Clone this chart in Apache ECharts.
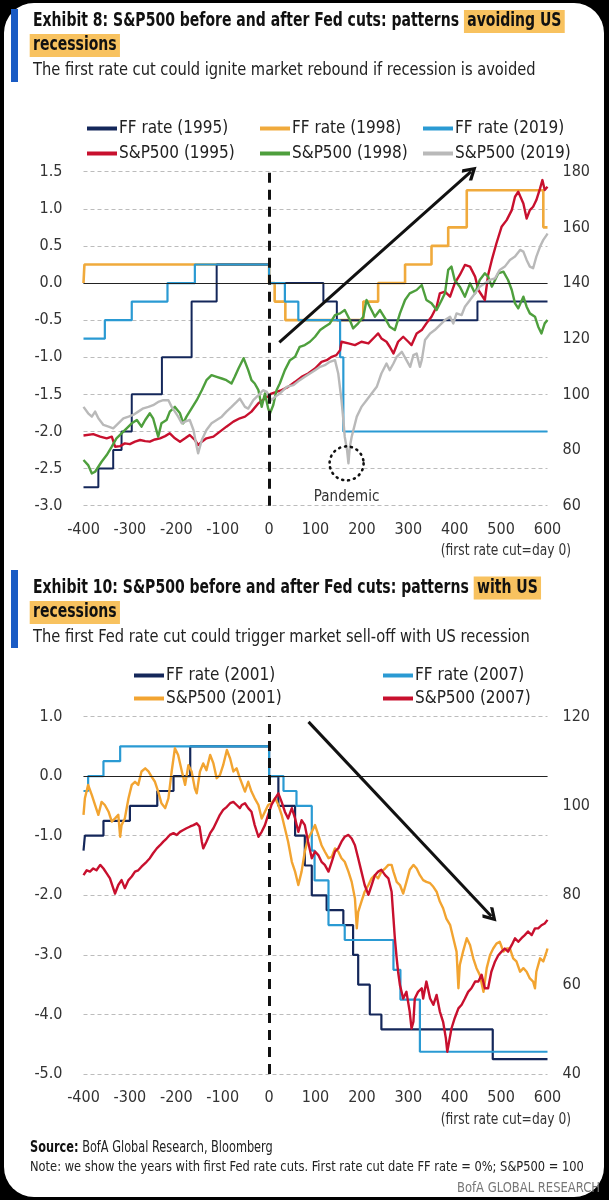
<!DOCTYPE html>
<html><head><meta charset="utf-8">
<script src="https://cdn.jsdelivr.net/npm/echarts@6/dist/echarts.min.js"></script>
<style>
html,body{margin:0;padding:0;background:#000;}
#wrap{position:relative;width:609px;height:1200px;background:#000;overflow:hidden;}
#card{position:absolute;left:4px;top:3px;right:5px;bottom:3px;background:#fff;border-radius:30px;}
#c{position:absolute;left:0;top:0;width:609px;height:1200px;}
</style></head>
<body><div id="wrap"><div id="card"></div><div id="c"></div></div>
<script>
// ---------------- DATA ----------------
const xTicks = [-400, 600, 100];
// Panel 1: FF rate change points (day, pp vs cut date)
const ff1995 = [[-400,-2.75],[-368,-2.5],[-336,-2.25],[-318,-2.0],[-296,-1.5],[-231,-1.0],[-167,-0.25],[-113,0.25],[0,0],[117,-0.25],[146,-0.5],[449,-0.25],[600,-0.25]];
const ff1998 = [[-400,0],[-398,0.25],[0,0],[12,-0.25],[35,-0.5],[203,-0.25],[235,0],[293,0.25],[350,0.5],[386,0.75],[426,1.25],[591,0.75],[600,0.75]];
const ff2019 = [[-400,-0.75],[-354,-0.5],[-296,-0.25],[-219,0],[-160,0.25],[0,0],[34,-0.25],[63,-0.5],[153,-1.0],[160,-2.0],[600,-2.0]];
// Panel 1: S&P500 (cut date = 100)
const sp1995 = [[-400,85.2],[-379,85.7],[-364,84.8],[-350,84.2],[-339,84.8],[-332,81.2],[-321,81.4],[-311,82.4],[-300,82.1],[-289,83.0],[-278,83.6],[-267,83.2],[-257,83.0],[-246,83.8],[-235,84.2],[-224,85.0],[-214,86.0],[-203,84.2],[-192,83.0],[-181,84.2],[-171,85.4],[-160,83.6],[-153,81.8],[-145,83.0],[-135,84.2],[-120,84.8],[-106,86.6],[-92,88.4],[-77,90.2],[-63,91.4],[-52,92.0],[-38,93.8],[-23,96.8],[-9,98.5],[5,100.3],[16,100.9],[27,101.5],[41,102.7],[56,104.5],[70,106.3],[84,107.5],[99,109.3],[113,111.7],[124,112.3],[135,113.5],[145,114.1],[153,115.9],[156,118.9],[171,118.3],[185,117.7],[199,118.9],[214,118.3],[228,120.7],[235,121.9],[242,120.1],[253,118.9],[260,117.1],[268,114.7],[278,118.9],[289,120.7],[300,118.9],[307,117.7],[318,121.9],[329,123.1],[339,125.5],[350,127.9],[361,131.5],[368,136.3],[379,136.9],[390,135.1],[400,139.9],[411,142.9],[422,146.5],[433,145.9],[444,142.3],[451,137.5],[458,135.7],[465,133.9],[472,142.9],[480,148.3],[490,154.3],[501,160.2],[512,162.6],[523,166.2],[530,171.0],[537,172.8],[548,168.6],[555,163.2],[562,166.2],[569,167.4],[576,169.8],[584,174.0],[589,177.0],[594,173.4],[600,174.6]];
const sp1998 = [[-400,76.4],[-390,74.6],[-382,71.6],[-375,72.2],[-368,74.0],[-361,75.8],[-350,78.2],[-339,81.2],[-329,84.2],[-318,86.0],[-307,87.8],[-296,89.6],[-285,90.8],[-275,88.4],[-267,90.8],[-257,93.2],[-250,91.4],[-239,84.8],[-232,89.6],[-221,90.8],[-214,93.8],[-203,95.5],[-192,93.2],[-185,89.6],[-178,92.0],[-167,95.0],[-156,97.9],[-145,101.5],[-135,105.1],[-124,106.9],[-113,106.3],[-102,105.7],[-92,105.1],[-81,103.9],[-74,106.3],[-66,109.3],[-55,113.0],[-52,112.9],[-45,108.7],[-38,105.1],[-31,103.9],[-23,101.5],[-16,95.5],[-9,100.3],[-2,94.9],[2,93.2],[9,96.2],[16,101.5],[23,103.9],[34,108.7],[45,112.3],[56,113.5],[66,117.1],[77,117.7],[88,118.9],[99,120.7],[110,123.1],[120,124.3],[131,125.5],[142,128.5],[153,129.1],[163,130.3],[174,126.7],[181,123.7],[192,125.5],[203,127.9],[210,133.9],[217,131.5],[228,127.9],[239,130.3],[250,127.3],[260,124.3],[271,123.1],[282,129.1],[293,133.9],[303,136.3],[318,137.5],[329,139.3],[339,133.9],[350,132.7],[361,130.3],[372,133.9],[379,136.3],[386,144.7],[393,145.9],[400,141.1],[411,138.7],[422,135.1],[433,139.9],[444,136.3],[454,141.1],[465,143.5],[472,142.3],[480,138.7],[487,141.1],[494,143.5],[505,144.1],[515,141.1],[523,137.5],[530,132.7],[537,130.9],[548,135.1],[555,131.5],[562,129.1],[573,127.9],[580,124.3],[587,121.9],[594,125.5],[600,126.7]];
const sp2019 = [[-400,95.5],[-390,93.2],[-382,92.0],[-375,93.8],[-368,91.4],[-357,89.0],[-346,88.4],[-336,87.8],[-325,89.6],[-314,91.4],[-303,92.0],[-293,92.6],[-282,93.8],[-271,95.0],[-260,95.5],[-250,96.1],[-239,97.3],[-228,97.9],[-217,97.9],[-210,95.5],[-203,93.8],[-196,92.0],[-188,89.6],[-181,90.2],[-171,90.8],[-163,87.2],[-156,81.2],[-153,78.8],[-145,83.6],[-135,87.2],[-124,89.6],[-113,90.8],[-102,92.0],[-92,93.8],[-81,95.5],[-70,97.3],[-63,98.5],[-52,95.5],[-45,94.9],[-34,97.9],[-23,99.7],[-13,101.5],[-5,100.9],[5,97.9],[13,99.1],[23,100.3],[38,102.7],[52,103.3],[66,105.1],[77,106.3],[88,107.5],[99,108.7],[110,109.9],[120,110.5],[131,111.7],[142,112.3],[149,107.5],[156,97.9],[160,90.8],[163,84.8],[168,80.0],[171,75.2],[174,81.2],[178,84.8],[189,92.0],[199,95.5],[210,97.9],[221,100.3],[232,102.7],[242,107.5],[253,111.1],[260,108.7],[268,111.1],[275,113.5],[286,115.3],[296,112.3],[304,109.9],[311,114.1],[318,114.7],[325,109.9],[329,112.3],[336,119.5],[347,121.9],[357,123.1],[368,124.9],[379,126.7],[390,127.9],[397,125.5],[404,129.1],[415,128.5],[422,131.5],[433,133.9],[444,136.3],[454,138.7],[465,139.9],[476,141.1],[487,141.7],[497,144.7],[508,145.9],[519,148.3],[530,149.5],[541,151.9],[548,151.3],[555,148.3],[562,145.9],[569,145.3],[576,149.5],[584,153.1],[591,155.5],[598,157.2],[600,157.8]];
// Panel 2: FF rate change points
const ff2001 = [[-400,-1.25],[-397,-1.0],[-357,-0.75],[-300,-0.5],[-241,-0.25],[-206,0],[-170,0.5],[0,0],[20,-0.5],[56,-1.0],[77,-1.5],[92,-2.0],[124,-2.25],[160,-2.5],[181,-3.0],[192,-3.5],[217,-4.0],[242,-4.25],[482,-4.75],[600,-4.75]];
const ff2007 = [[-400,-0.25],[-390,0],[-357,0.25],[-321,0.5],[0,0],[31,-0.25],[59,-0.5],[92,-1.25],[98,-1.75],[128,-2.5],[163,-2.75],[268,-3.25],[283,-3.75],[325,-4.625],[600,-4.625]];
// Panel 2: S&P500
const sp2001 = [[-400,98.0],[-397,101.7],[-390,104.7],[-382,102.4],[-375,100.2],[-368,98.0],[-361,100.9],[-354,100.2],[-346,98.7],[-339,96.5],[-332,97.2],[-325,98.0],[-321,93.1],[-318,95.7],[-311,97.2],[-303,101.7],[-296,104.7],[-289,105.4],[-282,104.7],[-275,107.7],[-267,108.4],[-260,107.7],[-253,106.5],[-246,105.4],[-239,103.2],[-232,100.6],[-224,99.5],[-217,101.7],[-210,107.7],[-203,112.9],[-196,111.4],[-188,107.7],[-181,104.7],[-174,109.1],[-167,107.7],[-160,103.9],[-156,102.8],[-149,107.7],[-142,109.5],[-135,108.0],[-127,111.4],[-120,109.5],[-113,106.2],[-106,106.9],[-99,109.1],[-91,112.5],[-84,110.6],[-77,107.7],[-70,108.4],[-63,106.2],[-59,106.2],[-52,103.2],[-45,105.4],[-38,103.2],[-31,101.7],[-23,100.2],[-16,97.2],[-9,98.7],[-2,100.2],[5,100.6],[13,101.7],[20,100.2],[27,98.0],[34,95.0],[41,92.0],[49,87.5],[56,85.3],[63,82.3],[70,85.3],[77,89.8],[84,92.7],[92,94.2],[99,95.7],[106,93.5],[113,91.2],[120,89.8],[128,88.3],[135,88.6],[142,90.5],[149,89.8],[156,88.3],[163,87.5],[171,85.3],[178,83.0],[185,79.3],[189,72.6],[192,76.3],[199,78.6],[206,80.8],[214,82.3],[221,83.8],[228,84.5],[235,83.8],[242,85.3],[250,86.0],[257,86.8],[264,86.8],[268,85.3],[275,83.0],[282,82.3],[289,80.4],[296,83.0],[303,85.7],[311,86.8],[318,86.0],[325,84.5],[332,83.4],[339,83.0],[347,82.7],[354,81.9],[361,80.8],[368,78.6],[375,77.1],[382,74.8],[390,73.4],[397,70.4],[404,67.4],[408,59.2],[411,64.4],[418,67.4],[426,70.4],[433,68.9],[440,65.9],[447,63.7],[454,62.2],[462,58.4],[469,63.7],[476,66.6],[483,68.1],[490,69.2],[497,69.6],[505,67.4],[512,68.1],[519,68.1],[526,65.9],[533,65.2],[541,62.9],[548,63.7],[555,62.9],[562,61.4],[569,60.7],[573,59.2],[576,62.9],[584,65.9],[591,65.2],[598,67.4],[600,68.1]];
const sp2007 = [[-400,84.5],[-393,85.6],[-386,85.3],[-379,86.0],[-372,85.6],[-364,86.8],[-357,86.0],[-350,84.9],[-343,83.8],[-336,81.6],[-332,80.4],[-325,82.3],[-318,83.4],[-311,81.6],[-303,83.4],[-296,84.2],[-289,85.3],[-282,85.6],[-275,86.4],[-264,87.5],[-257,88.3],[-250,89.4],[-242,90.5],[-235,91.2],[-228,92.0],[-221,92.7],[-214,93.5],[-206,93.9],[-199,93.5],[-192,94.2],[-185,94.6],[-178,95.0],[-170,95.4],[-163,95.7],[-156,96.1],[-150,95.4],[-145,92.0],[-142,90.5],[-135,92.0],[-127,93.9],[-120,95.0],[-113,96.5],[-106,98.0],[-99,99.1],[-91,99.8],[-84,100.6],[-77,100.9],[-70,100.2],[-63,99.5],[-59,100.2],[-52,100.6],[-45,99.5],[-38,98.7],[-31,95.7],[-23,93.1],[-16,94.2],[-9,95.7],[-2,98.0],[5,100.2],[13,101.7],[20,102.8],[27,100.9],[34,98.7],[41,97.2],[49,99.5],[56,97.2],[63,94.2],[70,96.8],[77,95.7],[84,92.0],[92,88.3],[99,89.8],[106,89.0],[113,87.5],[120,86.8],[128,85.3],[135,87.5],[142,89.8],[149,90.5],[156,92.0],[163,93.1],[171,93.5],[178,92.7],[185,91.2],[192,88.3],[199,85.3],[206,82.3],[214,80.1],[221,82.3],[228,84.5],[235,85.3],[242,85.7],[250,84.5],[257,83.8],[264,80.8],[268,74.9],[271,70.4],[275,65.9],[278,62.9],[282,59.9],[289,56.9],[296,58.4],[303,54.0],[307,50.2],[311,51.7],[314,56.9],[321,58.4],[329,59.2],[332,56.9],[339,60.7],[347,56.9],[354,55.5],[361,57.7],[368,54.0],[375,51.7],[381,48.0],[384,45.0],[388,47.3],[393,50.2],[400,52.5],[408,54.7],[415,55.5],[422,56.9],[429,58.4],[436,59.2],[444,60.7],[451,60.7],[458,62.2],[465,59.2],[472,59.2],[479,62.9],[487,65.2],[494,66.6],[501,67.4],[508,68.1],[515,67.4],[523,68.9],[530,70.4],[537,69.6],[544,70.4],[551,71.1],[558,71.9],[566,71.1],[573,72.6],[580,72.6],[587,73.3],[594,73.7],[600,74.5]];
// Axis ranges [min, max, interval]
const p1Left = [-3, 1.5, 0.5], p1Right = [60, 180, 20];
const p2Left = [-5, 1, 1], p2Right = [40, 120, 20];
// Annotations (data coordinates)
const arrow1 = [[22, -0.8], [435, 1.5]];
const arrow2 = [[85, 0.91], [479, -2.35]];
const pandemic = [167, 75.2];

// ---------------- STYLE ----------------
const F = "'DejaVu Sans Condensed','Liberation Sans Narrow','Roboto','Open Sans',sans-serif";
const C = {navy:'#14275a', orange:'#f0aa3c', lblue:'#2a9ad3', red:'#c8102e', green:'#4e9f3d', gray:'#b9b9b9', orange2:'#f2a431'};
const HL = '#f8c25f';
const chevron = 'path://M10,0L20,12L17,14.5L10,6L3,14.5L0,12Z';

const chart = echarts.init(document.getElementById('c'), null, {renderer:'canvas'});

function xAx(g){return {type:'value',gridIndex:g,min:xTicks[0],max:xTicks[1],interval:xTicks[2],
  axisLine:{show:false},axisTick:{show:false},splitLine:{show:false},
  axisLabel:{fontSize:16,color:'#333',margin:16,fontFamily:F}};}
function yL(g,r){return {type:'value',gridIndex:g,position:'left',min:r[0],max:r[1],interval:r[2],
  axisLine:{show:false},axisTick:{show:false},
  splitLine:{show:true,lineStyle:{color:'#bcbcbc',type:[4,3],width:1}},
  axisLabel:{fontSize:16,color:'#333',margin:21,fontFamily:F,formatter:v=>v.toFixed(1)}};}
function yR(g,r){return {type:'value',gridIndex:g,position:'right',min:r[0],max:r[1],interval:r[2],
  axisLine:{show:false},axisTick:{show:false},splitLine:{show:false},
  axisLabel:{fontSize:16,color:'#333',margin:15,fontFamily:F}};}
function step(name,data,color,xi,yi,w,z){return {name,type:'line',step:'end',data,xAxisIndex:xi,yAxisIndex:yi,
  symbol:'none',lineStyle:{color,width:w||2},itemStyle:{color},z:z||3};}
function sp(name,data,color,xi,yi){return {name,type:'line',data,xAxisIndex:xi,yAxisIndex:yi,
  symbol:'none',lineStyle:{color,width:2.4,join:'round'},itemStyle:{color},z:4};}
function lg(name,left,top){return {data:[name],left,top,icon:'rect',itemWidth:30,itemHeight:4,padding:0,
  selectedMode:false,textStyle:{fontSize:17,color:'#222',fontFamily:F,padding:[0,0,0,-3]}};}
function zeroLine(xi,yi){return {type:'line',data:[],xAxisIndex:xi,yAxisIndex:yi,z:2,silent:true,
  markLine:{silent:true,symbol:['none','none'],label:{show:false},
    lineStyle:{color:'#222',width:1.2,type:'solid'},data:[{yAxis:0}]}};}
function annot(xi,yi,arr){return {type:'line',data:[],xAxisIndex:xi,yAxisIndex:yi,z:10,clip:false,silent:true,
  markLine:{silent:true,symbol:['none','none'],label:{show:false},animation:false,
    data:[
      {xAxis:0,lineStyle:{color:'#111',width:3,type:[10,7]}},
      [{coord:arr[0],symbol:'none',lineStyle:{color:'#111',width:3,type:'solid'}},
       {coord:arr[1],symbol:chevron,symbolSize:15}]
    ]}};}

// title text helpers (graphic text, horizontally condensed)
const TS = 0.82;
const tRich = {
  t:{fontSize:19,fontWeight:'bold',fill:'#111',fontFamily:F,lineHeight:25},
  h:{fontSize:19,fontWeight:'bold',fill:'#111',fontFamily:F,lineHeight:25,backgroundColor:HL,padding:[2,4,2,4]}
};
function gtext(x,y,text,opt){
  opt=opt||{};
  return {type:'text',x,y,scaleX:opt.sx||1,silent:true,z:50,
    style:{text,fontSize:opt.fs||16,fontWeight:opt.fw||'normal',fill:opt.fill||'#222',fontFamily:F,
      align:opt.align||'left',verticalAlign:'middle',rich:opt.rich}};
}

const option = {
  animation:false,
  backgroundColor:'transparent',
  legend:[
    lg('FF rate (1995)',87,120), lg('FF rate (1998)',260,120), lg('FF rate (2019)',423,120),
    lg('S&P500 (1995)',87,145), lg('S&P500 (1998)',260,145), lg('S&P500 (2019)',423,145),
    lg('FF rate (2001)',134,667), lg('FF rate (2007)',383,667),
    lg('S&P500 (2001)',134,690), lg('S&P500 (2007)',383,690)
  ],
  grid:[
    {left:83.5,width:464,top:171.7,height:334},
    {left:83.5,width:464,top:716.5,height:357.6}
  ],
  xAxis:[xAx(0),xAx(1)],
  yAxis:[yL(0,p1Left),yR(0,p1Right),yL(1,p2Left),yR(1,p2Right)],
  series:[
    zeroLine(0,0), zeroLine(1,2),
    step('FF rate (1998)',ff1998,C.orange,0,0,2.6,3),
    step('FF rate (1995)',ff1995,C.navy,0,0,2,3),
    step('FF rate (2019)',ff2019,C.lblue,0,0,2.2,3),
    sp('S&P500 (1995)',sp1995,C.red,0,1),
    sp('S&P500 (1998)',sp1998,C.green,0,1),
    sp('S&P500 (2019)',sp2019,C.gray,0,1),
    annot(0,0,arrow1),
    {type:'line',data:[],xAxisIndex:0,yAxisIndex:1,z:10,clip:false,silent:true,
      markPoint:{silent:true,animation:false,data:[{coord:pandemic,symbol:'circle',symbolSize:34,
        itemStyle:{color:'rgba(0,0,0,0)',borderColor:'#111',borderWidth:2.6,borderType:[1,5],borderCap:'round'},
        label:{show:true,formatter:'Pandemic',position:'bottom',distance:8,color:'#333',fontSize:15,fontFamily:F}}]}},
    step('FF rate (2001)',ff2001,C.navy,1,2,2.2),
    step('FF rate (2007)',ff2007,C.lblue,1,2,2.2),
    sp('S&P500 (2001)',sp2001,C.orange2,1,3),
    sp('S&P500 (2007)',sp2007,C.red,1,3),
    annot(1,2,arrow2)
  ],
  graphic:[
    {type:'rect',left:11,top:9,shape:{width:7,height:73},style:{fill:'#1a5bc4'},silent:true},
    {type:'rect',left:11,top:570,shape:{width:7,height:78},style:{fill:'#1a5bc4'},silent:true},
    gtext(33,21.5,'{t|Exhibit 8: S&P500 before and after Fed cuts: patterns }{h|avoiding US}',{sx:TS,rich:tRich}),
    gtext(29.7,45.5,'{h|recessions}',{sx:TS,rich:tRich}),
    gtext(33,70.5,'The first rate cut could ignite market rebound if recession is avoided',{fs:18,sx:0.905}),
    gtext(33,588,'{t|Exhibit 10: S&P500 before and after Fed cuts: patterns }{h|with US}',{sx:TS,rich:tRich}),
    gtext(29.7,612.5,'{h|recessions}',{sx:TS,rich:tRich}),
    gtext(33,637,'The first Fed rate cut could trigger market sell-off with US recession',{fs:18,sx:0.905}),
    gtext(571,551,'(first rate cut=day 0)',{fs:15,sx:0.91,align:'right',fill:'#333'}),
    gtext(571,1120,'(first rate cut=day 0)',{fs:15,sx:0.91,align:'right',fill:'#333'}),
    gtext(30,1148,'{b|Source:} BofA Global Research, Bloomberg',{fs:15,sx:0.84,fill:'#222',
      rich:{b:{fontSize:15,fontWeight:'bold',fill:'#111',fontFamily:F}}}),
    gtext(30,1167,'Note: we show the years with first Fed rate cuts. First rate cut date FF rate = 0%; S&P500 = 100',{fs:14,sx:0.91}),
    gtext(600,1188,'BofA GLOBAL RESEARCH',{fs:14,sx:0.92,align:'right',fill:'#777'})
  ]
};
chart.setOption(option);
</script></body></html>
